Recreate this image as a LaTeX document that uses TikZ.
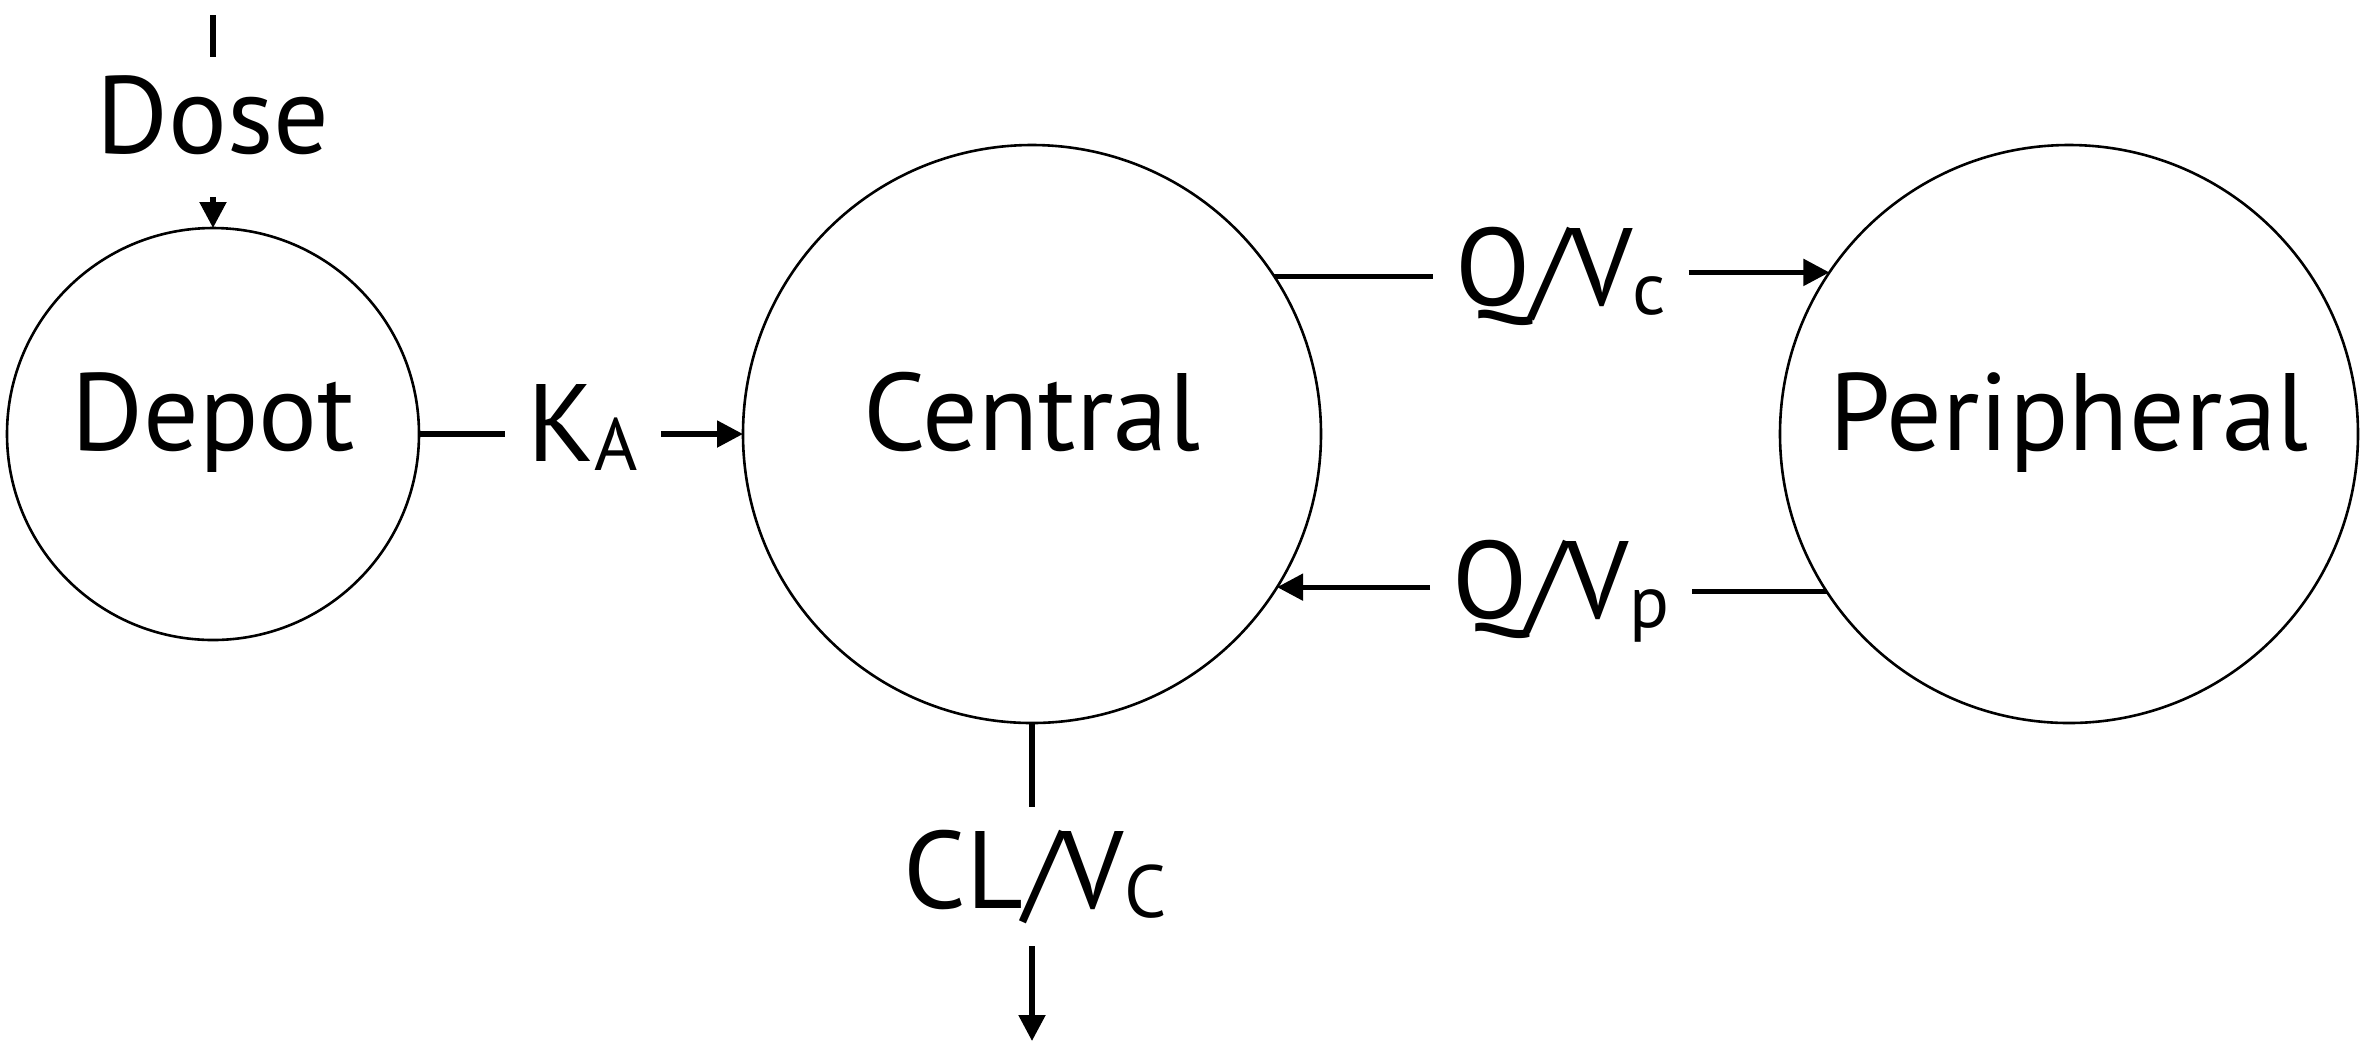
\documentclass[tikz,border=0pt]{standalone}
\usepackage{fontspec}
\setmainfont{PT Sans}
\usetikzlibrary{arrows.meta}

\tikzset{every picture/.style={line width=1.3pt}}
\tikzset{
  comp/.style={circle, draw, line width=0.65pt, inner sep=0pt, outer sep=0pt},
  compname/.style={anchor=base, inner sep=0pt, font=\fontsize{27.5}{30}\selectfont},
  rate/.style={anchor=base, inner sep=5pt, font=\fontsize{27.5}{30}\selectfont},
  flowarr/.style={-{Triangle[length=6.5pt,width=6.5pt]}},
}
\newcommand{\lowsub}[1]{\raisebox{-2.4pt}{\fontsize{18.5}{18.5}\selectfont #1}}

\begin{document}
\begin{tikzpicture}[x=0.25pt,y=0.25pt,yscale=-1,xscale=1]
            \useasboundingbox (0,0) rectangle (2369,1052);

            % Compartments
            \node[comp, minimum size=103pt] (depot) at (213,434) {};
            \node[comp, minimum size=144.5pt] (central) at (1032,434) {};
            \node[comp, minimum size=144.5pt] (periph) at (2069,434) {};
            \node[compname] (depotname) at (213,450) {Depot};
            \node[compname] (centralname) at (1032,450) {Central};
            \node[compname] (periphname) at (2069,450) {Peripheral};

            % Rate labels
            \node[rate] (dose) at (213,153) {Dose};
            \node[rate] (ka) at (583,461) {K\lowsub{A}};
            \node[rate] (qvc) at (1561,305) {Q/V\lowsub{c}};
            \node[rate] (qvp) at (1561,618) {Q/V\lowsub{p}};
            \node[rate] (clv) at (1035,908) {CL/V\lowsub{C}};
            \coordinate (dosein) at (213,15);
            \coordinate (elim) at (1032,1041);

            % Dose
            \draw (dosein) -- ([yshift=1pt]dosein |- dose.north);
            \draw [flowarr, shorten <=5pt] (dose.south -| depot.north) -- (depot.north);
            % Absorption
            \draw (depot.east) -- (depot.east -| ka.west);
            \draw [flowarr] (ka.east |- central.west) -- (central.west);
            % Distribution
            \draw (central.33.4) -- (central.33.4 -| qvc.west);
            \draw [flowarr] (qvc.east |- periph.146.6) -- (periph.146.6);
            \draw (periph.-147.6) -- (periph.-147.6 -| qvp.east);
            \draw [flowarr] (qvp.west |- central.-32.4) -- (central.-32.4);
            % Elimination
            \draw (central.south) -- (central.south |- clv.north);
            \draw [flowarr] (central.south |- clv.south) -- (elim);

\end{tikzpicture}
\end{document}
